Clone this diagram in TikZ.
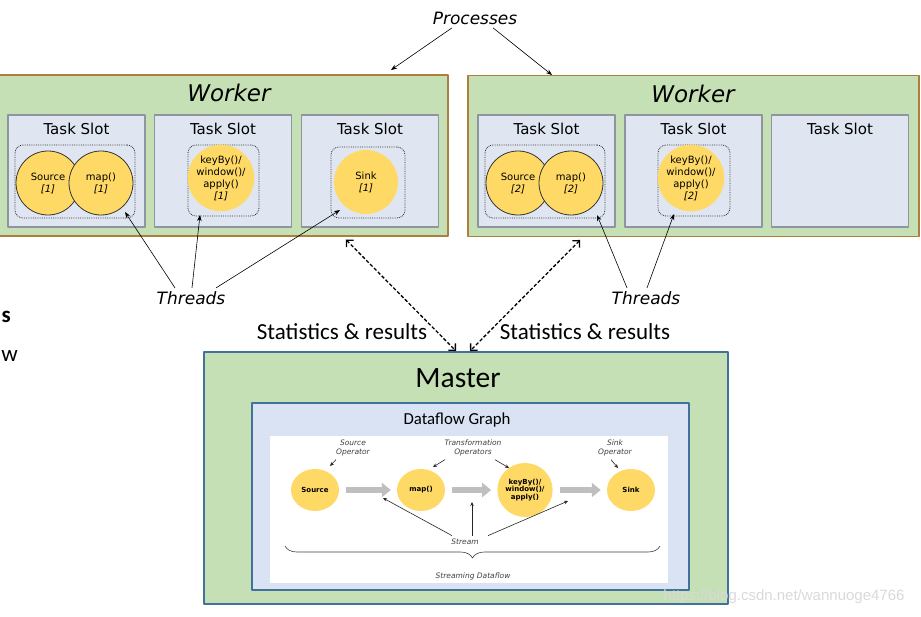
\documentclass[tikz,border=0pt]{standalone}
\usepackage{fontspec}
\setmainfont{DejaVu Sans}
\newfontfamily\calibri{Carlito}
\newfontfamily\arialf{Liberation Sans}
\usetikzlibrary{shapes.geometric,arrows.meta,decorations.pathreplacing}
\definecolor{wgreen}{HTML}{C5E0B4}
\definecolor{wbrown}{HTML}{AE7E3E}
\definecolor{slotfill}{HTML}{DFE6F1}
\definecolor{slotline}{HTML}{8E959E}
\definecolor{opyellow}{HTML}{FFD966}
\definecolor{mblue}{HTML}{41719C}
\definecolor{dfblue}{HTML}{DAE3F3}
\definecolor{flowgray}{HTML}{BFBFBF}
\newcommand{\fsz}[2]{\fontsize{#1}{#2}\selectfont}
\begin{document}
\begin{tikzpicture}[x=1pt, y=-1pt, line join=round, >={Stealth[length=6pt,width=4.5pt]},
	worker/.style={draw=wbrown, line width=1.3pt, fill=wgreen, minimum height=161pt, inner sep=0pt},
	wtitle/.style={font=\fsz{23}{26}\itshape},
	slot/.style={draw=slotline, line width=1.3pt, fill=slotfill, minimum width=137pt, minimum height=112pt, inner sep=0pt,
		label={[anchor=north, yshift=-5pt, font=\fsz{15}{18}]north:Task Slot}},
	grp/.style={draw=black!80, densely dotted, line width=.8pt, rounded corners=8pt, inner sep=0pt},
	opc/.style={circle, fill=opyellow, minimum size=64pt, inner sep=0pt, align=center, font=\fsz{10}{12}},
	lbl/.style={font=\fsz{17}{20}\itshape},
	stat/.style={dash pattern=on 3.5pt off 2pt, line width=1.3pt, {Straight Barb[length=5pt,width=10pt]}-{Straight Barb[length=5pt,width=10pt]}, shorten <=4pt},
	statlbl/.style={font=\calibri\fsz{23}{26}},
	dop/.style={ellipse, fill=opyellow, minimum width=48pt, inner sep=0pt, align=center, font=\fsz{7}{7.7}\bfseries},
	oplbl/.style={font=\fsz{7.5}{9}\itshape, align=center, text=black!75},
	flow/.style={line width=6pt, flowgray, -{Triangle[length=9pt,width=14pt]}, shorten <=7pt, shorten >=6pt},
	sm/.style={->, >={Stealth[length=4pt,width=3.5pt]}, semithick, black!85}]
	\useasboundingbox (0,0) rectangle (921,616);
	% Workers
	\node[worker, minimum width=453pt] (wA) at (221.5,155.5) {};
	\node[worker, minimum width=451pt] (wB) at (693.5,156) {};
	\node[wtitle] (wAt) at (229,93) {Worker};
	\node[wtitle] (wBt) at (693,94) {Worker};
	\foreach \n/\x in {a1/76.5, a2/223, a3/370, b1/546.5, b2/693.5, b3/840}
	\node[slot] (s\n) at (\x,171) {};
	% thread groups
	\node[grp, minimum width=120pt, minimum height=73pt] (ga1) at (75,181.5) {};
	\node[grp, minimum width=71pt, minimum height=71pt] (ga2) at (223.5,180.5) {};
	\node[grp, minimum width=74pt, minimum height=71pt] (ga3) at (368,182.5) {};
	\node[grp, minimum width=120pt, minimum height=73pt] (gb1) at (545,181.5) {};
	\node[grp, minimum width=72pt, minimum height=71pt] (gb2) at (694,180.5) {};
	\foreach \n/\x/\k/\t in {srcA/48/1/Source, mapA/101/1/map(), srcB/518/2/Source, mapB/571/2/map()}
	\node[opc, draw=black!80, line width=.8pt] (\n) at (\x,183) {\t\\\textit{[\k]}};
	\node[opc] (kA) at (221,178) {keyBy()/\\window()/\\apply()\\\textit{[1]}};
	\node[opc] (kB) at (691,178) {keyBy()/\\window()/\\apply()\\\textit{[2]}};
	\node[opc] (snA) at (366,182) {Sink\\\textit{[1]}};
	% Processes
	\node[lbl] (proc) at (475,18) {Processes};
	\coordinate (pA) at (391,70);
	\coordinate (pB) at (552,75);
	\draw[->, semithick] ([xshift=-23pt]proc.south) -- (pA);
	\draw[->, semithick] ([xshift=18pt]proc.south) -- (pB);
	% Threads
	\node[lbl] (thA) at (191,298) {Threads};
	\node[lbl] (thB) at (646,298) {Threads};
	\coordinate (tA1) at (125,212);
	\coordinate (tA2) at (200,215);
	\coordinate (tA3) at (340,210);
	\coordinate (tB1) at (597,215);
	\coordinate (tB2) at (674,214);
	\foreach \s/\e in {-16/tA1, 1/tA2, 25/tA3}
	\draw[->, semithick] ([xshift=\s pt]thA.north) -- (\e);
	\foreach \s/\e in {-19/tB1, 1/tB2}
	\draw[->, semithick] ([xshift=\s pt]thB.north) -- (\e);
	% Master
	\node[draw=mblue, line width=2pt, fill=wgreen, minimum width=524pt, minimum height=252pt] (mst) at (466,478) {};
	\node[font=\calibri\fsz{29.5}{32}] (mstT) at (458,378) {Master};
	\node[draw=mblue, line width=2pt, fill=dfblue, minimum width=437pt, minimum height=187pt] (df) at (470.5,496.5) {};
	\node[font=\calibri\fsz{16.8}{19}] (dfT) at (457,420) {Dataflow Graph};
	\node[fill=white, minimum width=398pt, minimum height=147pt] (pnl) at (469,509.5) {};
	% statistics
	\draw[stat] ([xshift=121.5pt]wA.south) -- ([xshift=-10pt]mst.north);
	\draw[stat] ([xshift=-110.5pt]wB.south) -- ([xshift=4pt]mst.north);
	\node[statlbl] (stA) at (342,332) {Statistics \& results};
	\node[statlbl] (stB) at (585,332) {Statistics \& results};
	% cut words on the left
	\node[font=\calibri\fsz{23}{26}\bfseries, anchor=east, inner sep=0pt] (frS) at (11,317) {s};
	\node[font=\calibri\fsz{23}{26}, anchor=east, inner sep=0pt] (frW) at (18,356) {w};
	% dataflow graph
	\foreach \n/\x/\h/\t in {dS/315/42/Source, dM/421/42/map(), dK/525/54/{keyBy()/\\window()/\\apply()}, dN/631/42/Sink}
	\node[dop, minimum height=\h pt] (\n) at (\x,490) {\t};
	\foreach \a/\b in {dS/dM, dM/dK, dK/dN}
	\draw[flow] (\a) -- (\b);
	\node[oplbl] (lSrc) at (353,448) {Source\\Operator};
	\node[oplbl] (lTr) at (473,448) {Transformation\\Operators};
	\node[oplbl] (lSnk) at (615,448) {Sink\\Operator};
	\coordinate (aS) at (330,466);
	\coordinate (aM) at (433,467);
	\coordinate (aK) at (509,468);
	\coordinate (aN) at (618,468);
	\draw[sm] ([xshift=-17pt]lSrc.south) -- (aS);
	\draw[sm] ([xshift=-28pt]lTr.south) -- (aM);
	\draw[sm] ([xshift=22pt]lTr.south) -- (aK);
	\draw[sm] ([xshift=-4pt]lSnk.south) -- (aN);
	\node[oplbl] (strm) at (465,542) {Stream};
	\coordinate (qA) at (383,498);
	\coordinate (qB) at (472,502);
	\coordinate (qC) at (568,501);
	\foreach \s/\e in {-13/qA, 7/qB, 23/qC}
	\draw[sm] ([xshift=\s pt]strm.north) -- (\e);
	\draw[semithick, black!75, decorate, decoration={brace, amplitude=12pt}] (660,546) -- (285,546);
	\node[oplbl] (sdf) at (473,576) {Streaming Dataflow};
	% watermark
	\node[font=\arialf\fsz{15}{17}, text=gray!30] (wmk) at (784,597) {https://blog.csdn.net/wannuoge4766};
\end{tikzpicture}
\end{document}
